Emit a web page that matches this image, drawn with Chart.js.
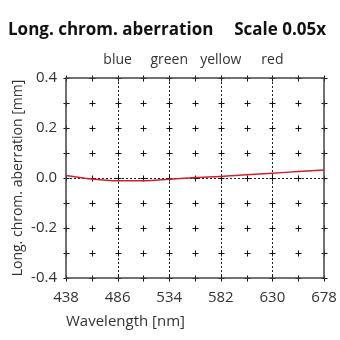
<!DOCTYPE html>
<html>
<head>
<meta charset="utf-8">
<script src="https://cdn.jsdelivr.net/npm/chart.js@4"></script>
<style>
  html, body { margin: 0; padding: 0; background: #fff; }
  #wrap { width: 340px; height: 340px; position: relative; }
</style>
</head>
<body>
<div id="wrap"><canvas id="c" width="340" height="340"></canvas></div>
<script>
// Wavelength samples [nm] and longitudinal chromatic aberration [mm]
const wavelengths = [438, 462, 486, 510, 534, 558, 582, 606, 630, 654, 678];
const aberration  = [0.010, -0.004, -0.011, -0.011, -0.005, 0.002, 0.006, 0.013, 0.019, 0.026, 0.032];

// Axis ticks
const xTicks = [438, 486, 534, 582, 630, 678];
const yTicks = [-0.4, -0.2, 0.0, 0.2, 0.4];

// Spectral reference lines with their colour names
const lineWavelengths = [486, 534, 582, 630];
const lineNames = ['blue', 'green', 'yellow', 'red'];

const titleLeft = 'Long. chrom. aberration';
const titleRight = 'Scale 0.05x';

const FONT = "'Open Sans', 'Noto Sans', sans-serif";
const TEXT = '#333';
const AXIS = '#444';

// Draws the frame, the dotted reference lines, the "+" grid marks and the headings
const decor = {
  id: 'decor',
  beforeDatasetsDraw(chart) {
    const { ctx, chartArea: a, scales: { x, y } } = chart;
    ctx.save();
    // dotted lines
    ctx.strokeStyle = '#222';
    ctx.lineWidth = 1;
    ctx.setLineDash([2, 2]);
    lineWavelengths.forEach(w => {
      const px = Math.round(x.getPixelForValue(w)) + 0.5;
      ctx.beginPath(); ctx.moveTo(px, a.top); ctx.lineTo(px, a.bottom); ctx.stroke();
    });
    const py0 = Math.round(y.getPixelForValue(0)) + 0.5;
    ctx.beginPath(); ctx.moveTo(a.left, py0); ctx.lineTo(a.right, py0); ctx.stroke();
    ctx.setLineDash([]);
    // "+" marks every 24 nm and 0.1 mm
    ctx.strokeStyle = '#111';
    const arm = 3;
    for (let w = 438; w <= 678; w += 24) {
      for (let k = -4; k <= 4; k++) {
        const px = Math.round(x.getPixelForValue(w)) + 0.5;
        const py = Math.round(y.getPixelForValue(k / 10)) + 0.5;
        ctx.beginPath();
        ctx.moveTo(px - arm, py); ctx.lineTo(px + arm, py);
        ctx.moveTo(px, py - arm); ctx.lineTo(px, py + arm);
        ctx.stroke();
      }
    }
    // frame
    ctx.strokeStyle = AXIS;
    ctx.lineWidth = 1.5;
    ctx.strokeRect(a.left, a.top, a.right - a.left, a.bottom - a.top);
    ctx.restore();
  },
  afterDraw(chart) {
    const { ctx, scales: { x } } = chart;
    ctx.save();
    ctx.fillStyle = '#111';
    ctx.font = `bold 17px ${FONT}`;
    ctx.textBaseline = 'middle';
    ctx.textAlign = 'left';
    ctx.fillText(titleLeft, 8, 30);
    ctx.textAlign = 'right';
    ctx.fillText(titleRight, 326, 30);
    ctx.fillStyle = TEXT;
    ctx.font = `14px ${FONT}`;
    ctx.textAlign = 'center';
    lineWavelengths.forEach((w, i) => {
      ctx.fillText(lineNames[i], x.getPixelForValue(w), 60);
    });
    ctx.restore();
  }
};

new Chart(document.getElementById('c'), {
  type: 'line',
  data: {
    datasets: [{
      data: wavelengths.map((w, i) => ({ x: w, y: aberration[i] })),
      borderColor: '#d0202c',
      borderWidth: 1.5,
      pointRadius: 0,
      cubicInterpolationMode: 'monotone',
      fill: false
    }]
  },
  options: {
    responsive: false,
    animation: false,
    events: [],
    layout: { padding: { left: 0, right: 16, top: 78, bottom: 0 } },
    plugins: { legend: { display: false }, tooltip: { enabled: false } },
    scales: {
      x: {
        type: 'linear',
        min: 438, max: 678,
        afterFit(s) { s.height = 62; s.paddingLeft = 0; s.paddingRight = 0; },
        afterBuildTicks(s) { s.ticks = xTicks.map(v => ({ value: v })); },
        grid: { display: false, drawTicks: false },
        border: { display: false },
        ticks: { color: TEXT, font: { family: FONT, size: 15 }, padding: 11, maxRotation: 0, autoSkip: false },
        title: {
          display: true, text: 'Wavelength [nm]', align: 'start',
          color: TEXT, font: { family: FONT, size: 15 }, padding: { top: 0, bottom: 9 }
        }
      },
      y: {
        type: 'linear',
        min: -0.4, max: 0.4,
        afterFit(s) { s.width = 66; s.paddingTop = 0; s.paddingBottom = 0; },
        afterBuildTicks(s) { s.ticks = yTicks.map(v => ({ value: v })); },
        grid: { display: false, drawTicks: false },
        border: { display: false },
        ticks: { color: TEXT, font: { family: FONT, size: 15 }, padding: 9,
                 callback: v => v.toFixed(1) },
        title: {
          display: true, text: 'Long. chrom. aberration [mm]',
          color: TEXT, font: { family: FONT, size: 14 }, padding: { top: 10, bottom: 0 }
        }
      }
    }
  },
  plugins: [decor]
});
</script>
</body>
</html>
